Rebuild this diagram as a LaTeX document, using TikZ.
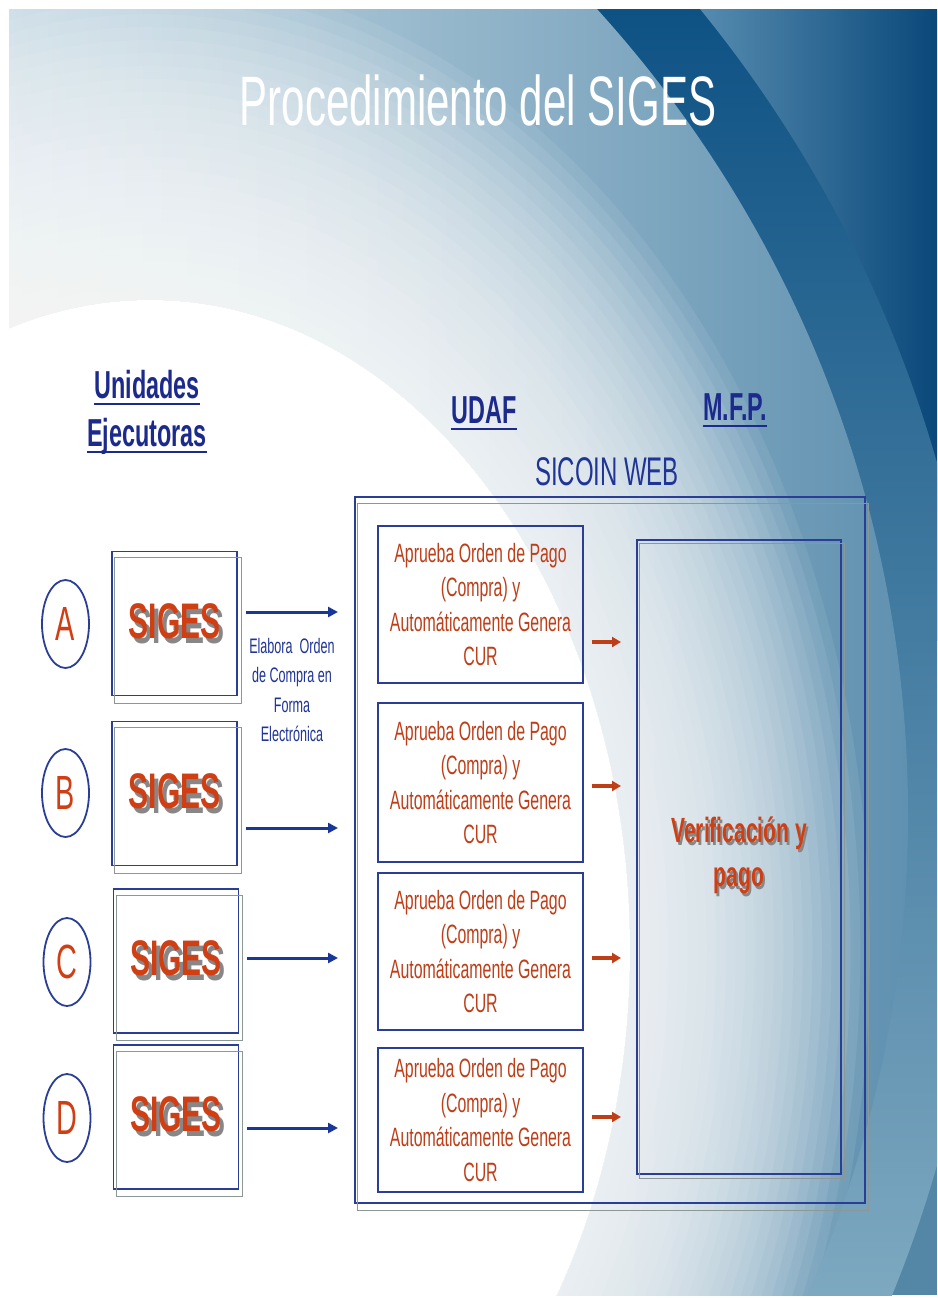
\documentclass[tikz,border=0pt]{standalone}
\usepackage{fontspec}
\usetikzlibrary{arrows.meta,shapes.geometric}

\newfontfamily\slidefont{Liberation Sans}[FakeStretch=0.6]

\definecolor{headblue}{RGB}{28,42,140}
\definecolor{webblue}{RGB}{32,52,150}
\definecolor{lineblue}{RGB}{42,62,150}
\definecolor{arrowblue}{RGB}{25,55,150}
\definecolor{sigesred}{RGB}{208,62,20}
\definecolor{textred}{RGB}{190,62,24}
\definecolor{shadowgray}{RGB}{135,135,135}
\definecolor{framegray}{RGB}{140,152,150}
\definecolor{bgleft}{RGB}{200,219,229}
\definecolor{bgright}{RGB}{96,145,176}
\definecolor{bandtop}{RGB}{14,82,132}
\definecolor{bandbot}{RGB}{125,168,192}
\definecolor{outerlight}{RGB}{92,145,180}
\definecolor{outerdark}{RGB}{10,72,122}
\definecolor{outerlow}{RGB}{84,135,165}

% text with a grey copy behind it
\newcommand{\shadowed}[3]{\leavevmode\rlap{\hspace*{#2}\raisebox{-#3}{\textcolor{shadowgray}{#1}}}#1}

\tikzset{
  titletext/.style={anchor=base, inner sep=0, text=white, font=\slidefont\fontsize{70}{70}\selectfont},
  headtext/.style={anchor=base, inner sep=0, text=headblue, font=\slidefont\bfseries\fontsize{39}{39}\selectfont},
  headline/.style={draw=headblue, line width=2.4pt},
  webtext/.style={anchor=base, inner sep=0, text=webblue, font=\slidefont\fontsize{40}{40}\selectfont},
  letter/.style={draw=lineblue, ellipse, line width=1.8pt, minimum width=47pt, minimum height=88pt, inner sep=0, text=sigesred, font=\slidefont\fontsize{48}{48}\selectfont},
  sigesbox/.style={draw=lineblue, line width=1.3pt, minimum width=125pt, minimum height=144pt, inner sep=0, text=sigesred, font=\slidefont\bfseries\fontsize{50}{50}\selectfont},
  udafbox/.style={draw=lineblue, line width=1.3pt, minimum width=205pt, inner sep=0, align=center, text=textred, font=\slidefont\fontsize{26.5}{34.5}\selectfont},
  mfpbox/.style={draw=lineblue, line width=1.3pt, minimum width=204pt, minimum height=634pt, inner sep=0, align=center, text=sigesred, font=\slidefont\bfseries\fontsize{35}{44}\selectfont},
  webframe/.style={draw=lineblue, line width=1.3pt, minimum width=510pt, minimum height=706pt, inner sep=0},
  shadowline/.style={draw=framegray, line width=1.2pt},
  bluearrow/.style={draw=arrowblue, line width=3pt, shorten <=8pt, -{Triangle[length=10pt,width=10pt]}},
  redarrow/.style={draw=textred, line width=3.5pt, shorten <=8pt, -{Triangle[length=9pt,width=10pt]}},
  smalltext/.style={align=center, inner sep=0, text=webblue, font=\slidefont\fontsize{21}{29.5}\selectfont}
}

\begin{document}
\begin{tikzpicture}[x=1pt,y=-1pt]
\useasboundingbox (0,0) rectangle (937,1298);

% background of the slide
\begin{scope}
  \clip (9,10) rectangle (937,1295);
  \fill[outerlow] (9,640) rectangle (937,1295);
  \fill[outerlight] (9,10) rectangle (680,640);
  \shade[left color=outerlight, right color=outerdark] (680,10) rectangle (937,640);
  \begin{scope}
    \clip (-289,814) circle (1275);
    \shade[top color=bandtop, bottom color=bandbot] (9,10) rectangle (937,1295);
  \end{scope}
  \begin{scope}
    \clip (-289,814) circle (1197);
    \shade[left color=bgleft, right color=bgright] (9,10) rectangle (908,1295);
    \fill[white] (150,950) ellipse (480 and 650);
    \foreach \s in {1.02,1.04,...,1.5}
      \fill[white, opacity=0.08] (150,950) ellipse ({480*\s} and {650*\s});
  \end{scope}
\end{scope}

\node[titletext] (title) at (478,125) {Procedimiento del SIGES};

% column heads
\node[headtext] (uni) at (147,398) {Unidades};
\node[headtext] (eje) at (147,446) {Ejecutoras};
\node[headtext] (udaf) at (484,423) {UDAF};
\node[headtext] (mfp) at (735,420) {M.F.P.};
\foreach \h in {uni,eje,udaf,mfp}
  \draw[headline] ([yshift=-6pt]\h.base west) -- ([yshift=-6pt]\h.base east);
\node[webtext] (sicoin) at (607,485) {SICOIN WEB};

% frames
\node[webframe] (web) at (610,850) {};
\node[mfpbox] (pago) at (739,857) {\shadowed{Verificación y}{2pt}{3pt}\\\shadowed{pago}{2pt}{3pt}};
\draw[shadowline] ([shift={(3,7)}]web.north west) rectangle ([shift={(3,7)}]web.south east);
\draw[shadowline] ([shift={(3,4)}]pago.north west) rectangle ([shift={(3,4)}]pago.south east);

% executing units
\node[letter] (a) at (65.5,624) {A};
\node[letter] (b) at (65.5,793) {B};
\node[letter] (c) at (67,962) {C};
\node[letter] (d) at (67,1118) {D};
\node[sigesbox] (sigesA) at (174.5,623.5) {\shadowed{SIGES}{4pt}{5pt}};
\node[sigesbox] (sigesB) at (174.5,793.5) {\shadowed{SIGES}{4pt}{5pt}};
\node[sigesbox] (sigesC) at (176,961) {\shadowed{SIGES}{4pt}{5pt}};
\node[sigesbox] (sigesD) at (176,1117) {\shadowed{SIGES}{4pt}{5pt}};
\foreach \s in {sigesA,sigesB,sigesC,sigesD}
  \draw[shadowline] ([shift={(3.5,7)}]\s.north west) rectangle ([shift={(3.5,7)}]\s.south east);

\node[smalltext] (elabora) at (292,690) {Elabora\ \ Orden\\de Compra en\\Forma\\Electrónica};

% UDAF approvals
\node[udafbox, minimum height=157pt] (udaf1) at (480.5,604.5) {Aprueba Orden de Pago\\(Compra) y\\Automáticamente Genera\\CUR};
\node[udafbox, minimum height=159pt] (udaf2) at (480.5,782.5) {Aprueba Orden de Pago\\(Compra) y\\Automáticamente Genera\\CUR};
\node[udafbox, minimum height=157pt] (udaf3) at (480.5,951.5) {Aprueba Orden de Pago\\(Compra) y\\Automáticamente Genera\\CUR};
\node[udafbox, minimum height=144pt] (udaf4) at (480.5,1120) {Aprueba Orden de Pago\\(Compra) y\\Automáticamente Genera\\CUR};

% arrows
\coordinate (inA) at (338,612);
\coordinate (inB) at (338,828);
\coordinate (inC) at (338,958);
\coordinate (inD) at (338,1128);
\draw[bluearrow] (sigesA.east |- inA) -- (inA);
\draw[bluearrow] (sigesB.east |- inB) -- (inB);
\draw[bluearrow] (sigesC.east |- inC) -- (inC);
\draw[bluearrow] (sigesD.east |- inD) -- (inD);
\coordinate (out1) at (621,642);
\coordinate (out2) at (621,786);
\coordinate (out3) at (621,958);
\coordinate (out4) at (621,1117);
\draw[redarrow] (udaf1.east |- out1) -- (out1);
\draw[redarrow] (udaf2.east |- out2) -- (out2);
\draw[redarrow] (udaf3.east |- out3) -- (out3);
\draw[redarrow] (udaf4.east |- out4) -- (out4);
\end{tikzpicture}
\end{document}
